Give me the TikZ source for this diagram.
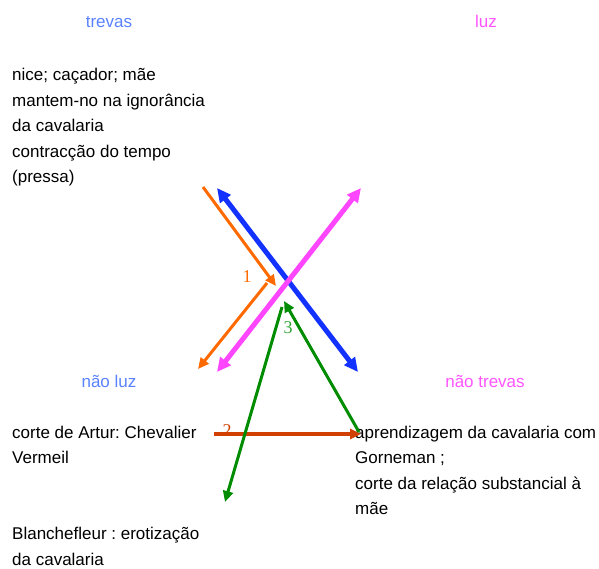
\documentclass[tikz,border=0pt]{standalone}
\usepackage{fontspec}
\setmainfont{Liberation Sans}
\newfontfamily\numfont{Liberation Serif}
\usetikzlibrary{positioning,arrows.meta}

\definecolor{trevasblue}{RGB}{90,130,255}
\definecolor{luzpink}{RGB}{255,85,255}
\definecolor{arrblue}{RGB}{20,50,255}
\definecolor{arrpink}{RGB}{255,70,255}
\definecolor{arrorange}{RGB}{255,106,0}
\definecolor{arrgreen}{RGB}{0,140,0}
\definecolor{arrred}{RGB}{208,64,0}

\begin{document}
\frenchspacing
\begin{tikzpicture}[x=1pt,y=-1pt,
  txt/.style={font=\fontsize{17}{25.5}\selectfont,align=left,anchor=base west,inner sep=0pt},
  head/.style={font=\fontsize{17}{20}\selectfont,anchor=base,inner sep=0pt},
  num/.style={font=\numfont\fontsize{18}{20}\selectfont,inner sep=0pt},
  tip/.style={-{Triangle[length=11pt,width=10pt]}},
  twotip/.style={{Triangle[length=14pt,width=13pt]}-{Triangle[length=14pt,width=13pt]}}]
\useasboundingbox (0,0) rectangle (599,569);
% four corner headings
\node[head,text=trevasblue] (trevas) at (109,28) {trevas};
\node[head,text=luzpink] (luz) at (486,28) {luz};
\node[head,text=trevasblue] (naoluz) at (109,387) {não luz};
\node[head,text=luzpink] (naotrevas) at (485,387) {não trevas};
% text blocks (placed at the baseline of their last line)
\node[txt] (nice) at (12,183) {nice; caçador; mãe\\mantem-no na ignorância\\da cavalaria\\contracção do tempo\\(pressa)};
\node[txt] (artur) at (12,463.5) {corte de Artur: Chevalier\\Vermeil};
\node[txt] (blanche) at (12,565) {Blanchefleur : erotização\\da cavalaria};
\node[txt] (gorneman) at (355,514.5) {aprendizagem da cavalaria com\\Gorneman ;\\corte da relação substancial à\\mãe};
% arrow ends
\coordinate (o1a) at (203,187);  \coordinate (o1b) at (276,286);
\coordinate (o2a) at (267,283);  \coordinate (o2b) at (198,369);
\coordinate (bla) at (217,188);  \coordinate (blb) at (358,372);
\coordinate (pka) at (217,372);  \coordinate (pkb) at (361,188);
\coordinate (apex) at (284,301); \coordinate (gbot) at (225,502);
\coordinate (gtop) at (282,307); \coordinate (gright) at (359,432);
\coordinate (r2a) at (214,434);  \coordinate (r2b) at (361,434);
% step labels
\node[num,text=arrorange] (n1) at (247,277) {1};
\node[num,text=arrred] (n2) at (227,431) {2};
\node[num,text=arrgreen!80] (n3) at (288,328) {3};
% the cross
\draw[tip,arrorange,line width=3pt] (o1a) -- (o1b);
\draw[tip,arrorange,line width=3pt] (o2a) -- (o2b);
\draw[twotip,arrblue,line width=5pt] (bla) -- (blb);
\draw[twotip,arrpink,line width=5pt] (pka) -- (pkb);
% the triangle
\draw[tip,arrred,line width=4.5pt] (r2a) -- (r2b);
\draw[tip,arrgreen,line width=3pt] (gtop) -- (gbot);
\draw[tip,arrgreen,line width=3pt] (gright) -- (apex);
\end{tikzpicture}
\end{document}
